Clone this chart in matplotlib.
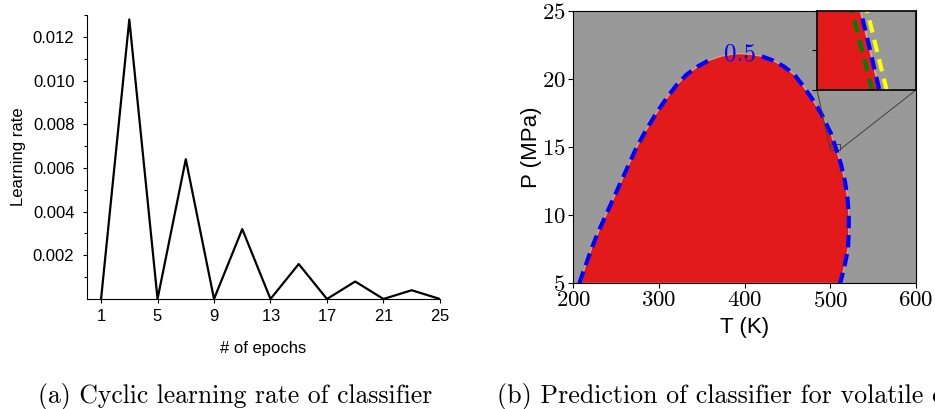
"""Cyclic learning rate and classifier phase prediction, side by side."""

import matplotlib
matplotlib.rcParams['font.family'] = 'Liberation Sans'
matplotlib.rcParams['axes.formatter.use_mathtext'] = True
import matplotlib.pyplot as plt
from mpl_toolkits.axes_grid1.inset_locator import mark_inset

# (a) learning rate schedule
epochs = [1, 3, 5, 7, 9, 11, 13, 15, 17, 19, 21, 23, 25]
learning_rate = [0, 0.0128, 0, 0.0064, 0, 0.0032, 0, 0.0016, 0, 0.0008, 0, 0.0004, 0]
epoch_ticks = [1, 5, 9, 13, 17, 21, 25]
lr_ticks = [0.002, 0.004, 0.006, 0.008, 0.010, 0.012]
lr_minor = [0.001, 0.003, 0.005, 0.007, 0.009, 0.011, 0.013]

# (b) 0.5 contour of the classifier (T in K, P in MPa)
bound_T = [207, 214, 221, 229, 238, 247, 256, 265, 274, 285, 297, 309, 320,
           332, 345, 358, 372, 385, 395, 407, 420, 433, 446, 458, 468, 478,
           489, 500.6, 505.9, 512.3, 517, 520, 521.5, 521.5, 520.5, 516.5, 511.5]
bound_P = [5, 6.25, 7.5, 8.75, 10, 11.25, 12.5, 13.75, 15, 16.25, 17.5, 18.6,
           19.5, 20.3, 20.9, 21.35, 21.65, 21.8, 21.85, 21.8, 21.65, 21.35,
           20.9, 20.3, 19.5, 18.6, 17.5, 16, 15, 13.75, 12.5, 11.25, 10, 8.75,
           7.5, 6.25, 5]
# other classifier contours, only visible in the zoomed inset
green_T = [503.6, 506.4]
green_P = [15.25, 14.75]
yellow_T = [505.3, 508.0]
yellow_P = [15.25, 14.75]
T_ticks = [200, 300, 400, 500, 600]
P_ticks = [5, 10, 15, 20, 25]

RED = '#e31a1c'
GRAY = '#999999'
CM = 'cmr10'
DASH = (0, (3, 1.6))


def main():
    fig = plt.figure(figsize=(9.35, 4.09), dpi=100)

    # ---- (a)
    ax1 = fig.add_axes([0.093, 0.269, 0.3775, 0.694])
    ax1.plot(epochs, learning_rate, color='black', lw=1.6)
    ax1.set_xlim(0, 25)
    ax1.set_ylim(0, 0.013)
    ax1.set_xticks(epoch_ticks)
    ax1.set_yticks(lr_ticks)
    ax1.set_yticks(lr_minor, minor=True)
    ax1.set_yticklabels(['%.3f' % v for v in lr_ticks])
    ax1.spines['right'].set_visible(False)
    ax1.spines['top'].set_visible(False)
    ax1.tick_params(labelsize=12, length=3, width=0.8)
    ax1.tick_params(axis='y', pad=6)
    ax1.tick_params(which='minor', length=2.5, width=0.8)
    ax1.set_xlabel('# of epochs', fontsize=12, labelpad=12)
    ax1.set_ylabel('Learning rate', fontsize=12, labelpad=5)

    # ---- (b)
    ax2 = fig.add_axes([0.6132, 0.3073, 0.3665, 0.6665])
    ax2.set_facecolor(GRAY)
    ax2.fill(bound_T, bound_P, facecolor=RED, edgecolor='#dca792', lw=0.8)
    i_left = bound_T.index(358)
    i_right = bound_T.index(420)
    ax2.plot(bound_T[:i_left + 1], bound_P[:i_left + 1], color='blue', lw=3, ls=DASH)
    ax2.plot(bound_T[i_right:], bound_P[i_right:], color='blue', lw=3, ls=DASH)
    ax2.text(394, 21.8, '0.5', color='blue', fontsize=18, fontname=CM,
             ha='center', va='center')
    ax2.set_xlim(200, 600)
    ax2.set_ylim(5, 25)
    ax2.set_xticks(T_ticks)
    ax2.set_yticks(P_ticks)
    for lab in ax2.get_xticklabels() + ax2.get_yticklabels():
        lab.set_fontname(CM)
        lab.set_fontsize(16.5)
    ax2.tick_params(length=3.5, width=0.8, pad=2)
    ax2.set_xlabel('T (K)', fontsize=16, labelpad=4)
    ax2.set_ylabel('P (MPa)', fontsize=16, labelpad=0)

    # inset
    axins = fig.add_axes([0.8738, 0.78, 0.1059, 0.1935])
    axins.set_facecolor(GRAY)
    axins.fill(bound_T, bound_P, facecolor=RED, edgecolor='#dca792', lw=1.2)
    axins.plot(green_T, green_P, color='green', lw=3, ls=(0, (3, 1.8)))
    axins.plot(bound_T, bound_P, color='blue', lw=3, ls=(0, (3, 1.8)))
    axins.plot(yellow_T, yellow_P, color='yellow', lw=3, ls=(0, (3, 1.8)))
    axins.set_xlim(500, 511)
    axins.set_ylim(14.8, 15.2)
    axins.set_xticks([])
    axins.set_yticks([14.8, 15.0, 15.2])
    axins.set_yticklabels([])
    axins.tick_params(length=3.5, width=0.8)
    for sp in axins.spines.values():
        sp.set_linewidth(1.2)
    mark_inset(ax2, axins, loc1=3, loc2=4, fc='none', ec='0.25', lw=0.7)

    # captions
    fig.text(38 / 935, 0.015, '(a) Cyclic learning rate of classifier',
             fontname=CM, fontsize=18.5, va='baseline')
    fig.text(497 / 935, 0.015,
             '(b) Prediction of classifier for volatile components',
             fontname=CM, fontsize=18.7, va='baseline')

    fig.savefig('out.png', dpi=100)


if __name__ == '__main__':
    main()
